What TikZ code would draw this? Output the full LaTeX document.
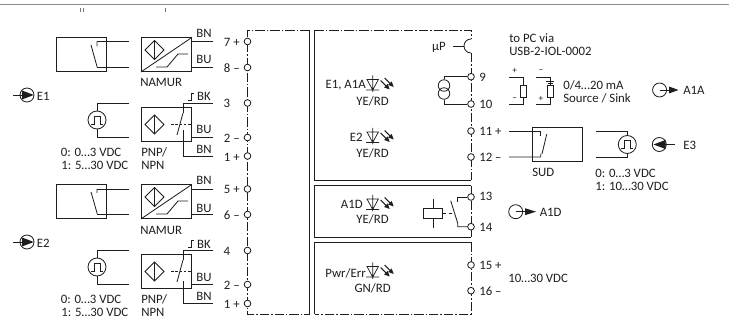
\documentclass[tikz,border=0pt]{standalone}
\usepackage{fontspec}
\setmainfont{Carlito}
\definecolor{ink}{HTML}{1E1E1E}
\tikzset{
  wire/.style={draw=ink,line width=0.62pt},
  thinw/.style={draw=ink,line width=0.55pt},
  frame/.style={draw=ink,line width=0.62pt},
  dashdot/.style={draw=ink,line width=0.62pt,dash pattern=on 7pt off 1.5pt on 1.2pt off 1.5pt},
  term/.style={circle,draw=ink,fill=white,line width=0.62pt,inner sep=0pt,minimum size=5pt},
  devbox/.style={rectangle,draw=ink,line width=0.62pt,fill=none,inner sep=0pt,minimum width=37.5pt,minimum height=25.2pt,anchor=north west},
  lbl/.style={text=ink,font=\fontsize{9.6}{11}\selectfont,inner sep=0pt},
  lblw/.style={lbl,anchor=west},
  lble/.style={lbl,anchor=east},
  pulse/.style={circle,draw=ink,line width=0.62pt,inner sep=0pt,minimum size=13.5pt,
    path picture={\draw[ink,line width=0.62pt] ([xshift=-4.5pt,yshift=-3pt]path picture bounding box.center) -- ++(2.2pt,0) -- ++(0,6pt) -- ++(4.6pt,0) -- ++(0,-6pt) -- ++(2.2pt,0);}},
  sig/.style={circle,draw=ink,line width=0.62pt,inner sep=0pt,minimum size=10.5pt},
  diamondsym/.pic={
    \draw[wire] (-9.5,0) -- (0,-9.5) -- (9.5,0) -- (0,9.5) -- cycle (0,-9.5) -- (0,9.5);
  },
  hyst/.pic={
    \draw[wire] (0,0) -- (11,0) -- (22,-13) -- (32,-13);
  },
  led/.pic={
    \draw[thinw] (-5.7,-4.5) -- (5.7,-4.5) -- (0,6) -- cycle (0,-8.5) -- (0,8) (-6.5,6) -- (6.5,6);
    \draw[draw=ink,line width=0.8pt] (8,-3.5) -- (14,2.5) (12,-6) -- (18,0);
    \fill[ink] (17,5.5) -- (11.5,3.5) -- (15,0) -- cycle;
    \fill[ink] (21,3) -- (15.5,1) -- (19,-2.5) -- cycle;
  }
}
\begin{document}
\begin{tikzpicture}[x=0.75pt,y=-0.75pt]
\useasboundingbox (0,0) rectangle (729,320);
% top rule and clipped marks
\draw[draw=black!45,line width=0.95pt] (0,4.5) -- (729,4.5);
\draw[draw=black!55,line width=0.5pt] (80.3,8) -- (80.3,12) (83,8) -- (83,12) (165,8) -- (165,12);

% module frames
\draw[dashdot] (309.5,30) -- (247.5,30) -- (247.5,314.3) -- (309.5,314.3);
\draw[frame] (309.5,30) -- (309.5,314.3);
\draw[frame] (471,180.5) -- (314.5,180.5) -- (314.5,30);
\draw[dashdot] (314.5,30) -- (471,30) -- (471,39);
\draw[dashdot] (471,53) -- (471,180.5);
\draw[frame] (471,185.7) -- (314.5,185.7) -- (314.5,237) -- (471,237);
\draw[dashdot] (471,185.7) -- (471,237);
\draw[frame] (471,242.3) -- (314.5,242.3) -- (314.5,314.3);
\draw[dashdot] (471,242.3) -- (471,314.3) -- (314.5,314.3);

% left terminals
\foreach \n/\y in {t7/41.5,t8/67.5,t3a/103,t2a/137.5,t1a/156,t5/189,t6/214.5,t4/250.5,t2b/284.5,t1b/303.5}
  \node[term] (\n) at (247.5,\y) {};
% right terminals
\foreach \n/\y in {t9/76.7,t10/104,t11/131,t12/157,t13/197,t14/226.7,t15/265,t16/290.7}
  \node[term] (\n) at (471,\y) {};

% terminal labels left
\node[lble] at (240,42) {7 +};
\node[lble] at (240,68) {8 –};
\node[lble] at (230.5,103.5) {3};
\node[lble] at (240,138) {2 –};
\node[lble] at (240,157) {1 +};
\node[lble] at (240,189.5) {5 +};
\node[lble] at (240,215) {6 –};
\node[lble] at (230.5,251) {4};
\node[lble] at (240,285) {2 –};
\node[lble] at (240,304) {1 +};
% terminal labels right
\node[lblw] at (479,77) {9};
\node[lblw] at (479,104) {10};
\node[lblw] at (479,131) {11 +};
\node[lblw] at (479,157) {12 –};
\node[lblw] at (479,196.5) {13};
\node[lblw] at (479,227) {14};
\node[lblw] at (479,265) {15 +};
\node[lblw] at (479,291) {16 –};

% ---------- upper-left group ----------
\node[devbox] (c1) at (56,37.5) {};
\node[devbox] (n1) at (141,37.5) {};
\coordinate (c1t) at (97,41.5);
\coordinate (c1b) at (97,67.5);
\coordinate (w1t) at (129,41.5);
\coordinate (w1b) at (129,67.5);
\draw[wire] (c1t) -- (w1t) (c1b) -- (w1b);
\draw[wire] (c1t) -- ++(0,5) (c1b) -- ++(0,-1) -- (91,45);
\draw[wire] (n1.south west) -- (n1.north east);
\pic at (154.5,50) {diamondsym};
\pic at (156,67) {hyst};
\coordinate (w7) at (213,41.5);
\coordinate (w8) at (213,67.5);
\draw[wire] (191,41.5) -- (w7) (191,67.5) -- (w8);
\node[lbl] at (204,33.5) {BN};
\node[lbl] at (204,59.5) {BU};
\node[lblw] at (140,82.5) {NAMUR};

\node[pulse] (p1) at (97,120) {};
\coordinate (w2t) at (129,103);
\coordinate (w2b) at (129,137);
\draw[wire] (p1.north) |- (w2t);
\draw[wire] (p1.south) |- (w2b);
\node[devbox] (n2) at (141,107.5) {};
\pic at (154.5,124.5) {diamondsym};
\coordinate (w3) at (213,103);
\coordinate (w2) at (213,137.5);
\coordinate (w1) at (213,156);
\draw[wire] (w3) -| (183,113);
\draw[wire] (w1) -| (183,130);
\draw[wire] (191,137.5) -- (w2);
\draw[wire] (177,135) -- (183,113);
\draw[wire,dash pattern=on 2pt off 1.2pt] (171,124) -- (191,124);
\draw[wire] (188,100) -- (191,100) -- (191,93.5) -- (194,93.5);
\node[lbl,anchor=east] at (211,96) {BK};
\node[lbl] at (204,129.5) {BU};
\node[lbl] at (204,149.5) {BN};
\node[lble] at (121.5,152.5) {0: 0…3 VDC};
\node[lble] at (128.5,165) {1: 5…30 VDC};
\node[lblw] at (141,152.5) {PNP/};
\node[lblw] at (141,165) {NPN};

\node[sig] (e1) at (27,95) {};
\coordinate (e1l) at (13,95);
\draw[wire] (e1l) -- (e1.center);
\fill[ink] (22,90.5) -- (33.8,95) -- (22,99.5) -- cycle;
\node[lblw] at (36.5,96) {E1};

% ---------- lower-left group ----------
\node[devbox] (c2) at (56,184.5) {};
\node[devbox] (n3) at (141,184.5) {};
\coordinate (c2t) at (97,189);
\coordinate (c2b) at (97,214);
\coordinate (w3t) at (129,189);
\coordinate (w3b) at (129,214);
\draw[wire] (c2t) -- (w3t) (c2b) -- (w3b);
\draw[wire] (c2t) -- ++(0,4) (c2b) -- ++(0,-1) -- (91,192);
\draw[wire] (n3.south west) -- (n3.north east);
\pic at (154.5,197) {diamondsym};
\pic at (156,214) {hyst};
\coordinate (w5) at (213,189);
\coordinate (w6) at (213,214.5);
\draw[wire] (191,189) -- (w5) (191,214.5) -- (w6);
\node[lbl] at (204,180.5) {BN};
\node[lbl] at (204,208) {BU};
\node[lblw] at (140,230) {NAMUR};

\node[pulse] (p2) at (97,267) {};
\coordinate (w4t) at (129,250.5);
\coordinate (w4b) at (129,284.5);
\draw[wire] (p2.north) |- (w4t);
\draw[wire] (p2.south) |- (w4b);
\node[devbox] (n4) at (141,254.5) {};
\pic at (154.5,271.5) {diamondsym};
\coordinate (w4) at (213,250.5);
\coordinate (w2x) at (213,284.5);
\coordinate (w1x) at (213,303.5);
\draw[wire] (w4) -| (183,260);
\draw[wire] (w1x) -| (183,281);
\draw[wire] (191,284.5) -- (w2x);
\draw[wire] (177,282) -- (183,260);
\draw[wire,dash pattern=on 2pt off 1.2pt] (171,271) -- (191,271);
\draw[wire] (188,247) -- (191,247) -- (191,240.5) -- (194,240.5);
\node[lbl,anchor=east] at (211,244) {BK};
\node[lbl] at (204,277) {BU};
\node[lbl] at (204,296) {BN};
\node[lble] at (121.5,299.5) {0: 0…3 VDC};
\node[lble] at (128.5,312.5) {1: 5…30 VDC};
\node[lblw] at (141,299.5) {PNP/};
\node[lblw] at (141,312.5) {NPN};

\node[sig] (e2) at (27,242) {};
\coordinate (e2l) at (13,242);
\draw[wire] (e2l) -- (e2.center);
\fill[ink] (22,237.5) -- (33.8,242) -- (22,246.5) -- cycle;
\node[lblw] at (36.5,243) {E2};

% ---------- inside module ----------
\node[lble] at (446,47) {µP};
\coordinate (mp) at (464,46);
\draw[wire] (453,46) -- (mp);
\draw[wire] (471,39) arc[start angle=-90,end angle=-270,radius=7];

\node[circle,draw=ink,line width=0.62pt,inner sep=0pt,minimum size=8.6pt] (cs1) at (444,85.5) {};
\node[circle,draw=ink,line width=0.62pt,inner sep=0pt,minimum size=8.6pt] (cs2) at (444,93.5) {};
\draw[wire] (cs1.north) |- (t9);
\draw[wire] (cs2.south) |- (t10);

\node[lble] at (366,85.5) {E1, A1A};
\pic at (372.7,84) {led};
\node[lble] at (389,101) {YE/RD};
\node[lble] at (363,137.5) {E2};
\pic at (372.7,136.5) {led};
\node[lble] at (389,153) {YE/RD};
\node[lble] at (363,204.5) {A1D};
\pic at (372.7,203.5) {led};
\node[lble] at (389,219.5) {YE/RD};
\node[lble] at (366,273) {Pwr/Err};
\pic at (372.7,271) {led};
\node[lble] at (391,288) {GN/RD};

% relay
\node[rectangle,draw=ink,line width=0.62pt,inner sep=0pt,minimum width=14.5pt,minimum height=7.5pt] (rel) at (433,213.7) {};
\coordinate (relt) at (433,199);
\coordinate (relb) at (433,228);
\draw[wire] (relt) -- (rel.north) (rel.south) -- (relb);
\draw[wire,dash pattern=on 2.5pt off 1.6pt] (rel.east) -- (452,213.7);
\coordinate (ct) at (457.7,197);
\coordinate (cb) at (457.7,226.7);
\draw[wire] (t13) -- (ct) -- ++(0,5);
\draw[wire] (t14) -- (cb) -- ++(0,-3.5) -- (450.7,200.7);

% ---------- right side ----------
\node[lblw] at (509,38) {to PC via};
\node[lblw] at (509,51) {USB-2-IOL-0002};

\node[rectangle,draw=ink,line width=0.62pt,inner sep=0pt,minimum width=4.6pt,minimum height=9pt] (r1) at (523,91) {};
\node[rectangle,draw=ink,line width=0.62pt,inner sep=0pt,minimum width=4.6pt,minimum height=9pt] (r2) at (550,91) {};
\coordinate (l1t) at (509,77);
\coordinate (l1b) at (509,104.5);
\coordinate (l2t) at (536,77);
\coordinate (l2b) at (536,104.5);
\draw[wire] (l1t) -| (r1.north);
\draw[wire] (l1b) -| (r1.south);
\draw[wire] (l2t) -| (r2.north);
\draw[wire] (l2b) -| (r2.south);
\draw[wire] (546,81) -- (554,81) (547.5,83.3) -- (552.5,83.3);
\node[lbl,font=\fontsize{7}{8}\selectfont] at (514.7,71) {+};
\node[lbl,font=\fontsize{7}{8}\selectfont] at (514.7,99) {–};
\node[lbl,font=\fontsize{7}{8}\selectfont] at (541,71) {–};
\node[lbl,font=\fontsize{7}{8}\selectfont] at (541,99) {+};
\node[lblw] at (563,85) {0/4…20 mA};
\node[lblw] at (563,98) {Source / Sink};

\node[sig] (a1a) at (659.6,90) {};
\draw[wire] (a1a.center) -- (669,90);
\fill[ink] (669,86.5) -- (678.5,90) -- (669,93.5) -- cycle;
\node[lblw] at (683,90.5) {A1A};

\node[devbox] (sud) at (532,127) {};
\coordinate (s1) at (509,131);
\coordinate (s2) at (509,157);
\coordinate (st) at (540.7,131);
\coordinate (sb) at (540.7,157);
\draw[wire] (s1) -- (st) -- ++(0,5.5);
\draw[wire] (s2) -- (sb) -- ++(0,-3) (542,154) -- (546.7,134.3);
\node[lblw] at (532,172.5) {SUD};

\node[pulse] (p3) at (627.3,144.5) {};
\coordinate (p3t) at (596,131);
\coordinate (p3b) at (596,157);
\draw[wire] (p3t) -| (p3.north);
\draw[wire] (p3b) -| (p3.south);
\node[lblw] at (595,173) {0: 0…3 VDC};
\node[lblw] at (595,186) {1: 10…30 VDC};

\node[sig] (e3) at (659.3,144.5) {};
\coordinate (e3r) at (675,144.5);
\draw[wire] (e3r) -- (e3.center);
\fill[ink] (665.5,140) -- (653.5,144.5) -- (665.5,149) -- cycle;
\node[lblw] at (683,145) {E3};

% A1D symbol
\node[sig] (a1d) at (515.7,211.7) {};
\draw[wire] (a1d.center) -- (526,211.7);
\fill[ink] (525,208.2) -- (536,211.7) -- (525,215.2) -- cycle;
\node[lblw] at (539.5,212) {A1D};

% supply
\node[lblw] at (508,278) {10…30 VDC};
\end{tikzpicture}
\end{document}
